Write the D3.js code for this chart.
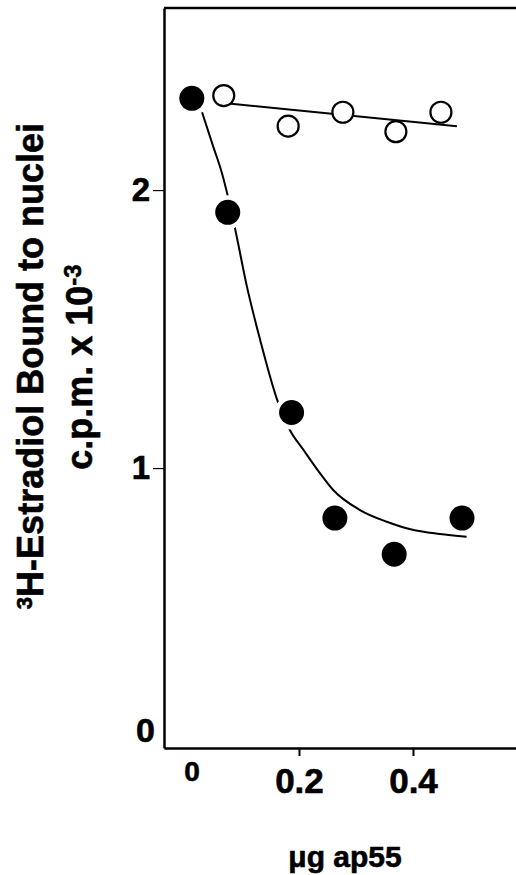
<!DOCTYPE html>
<html>
<head>
<meta charset="utf-8">
<script src="https://cdn.jsdelivr.net/npm/d3@7"></script>
<style>
  body { margin: 0; background: #ffffff; }
  text { font-family: "Liberation Sans", Arial, sans-serif; font-weight: bold; fill: #000; stroke: #000; stroke-width: 0.6px; }
</style>
</head>
<body>
<div class="mainWrapper"></div>
<script>
// filled circles: with ap55
var filledX = [0.012, 0.075, 0.187, 0.263, 0.367, 0.486];
var filledY = [2.33, 1.92, 1.20, 0.82, 0.69, 0.82];

// open circles: control
var openX = [0.068, 0.181, 0.277, 0.370, 0.449];
var openY = [2.34, 2.23, 2.28, 2.21, 2.28];

// fitted curve through filled circles (traced)
var curveX = [0.030, 0.049, 0.065, 0.075, 0.088, 0.109, 0.132, 0.161, 0.184, 0.208, 0.237, 0.260, 0.307, 0.354, 0.401, 0.447, 0.494];
var curveY = [2.28, 2.16, 2.06, 1.98, 1.86, 1.65, 1.46, 1.25, 1.137, 1.065, 0.981, 0.921, 0.849, 0.807, 0.777, 0.763, 0.753];

// straight line through open circles
var lineX = [0.068, 0.477];
var lineY = [2.313, 2.230];

var xTicks = [0.2, 0.4];
var yTicks = [1, 2];

var width = 516, height = 875;

var svg = d3.select(".mainWrapper")
  .append("svg")
    .attr("width", width)
    .attr("height", height);

var x = d3.scaleLinear()
  .domain([-0.0368, 0.5807])
  .range([164, 516]);

var y = d3.scaleLinear()
  .domain([-0.007, 2.655])
  .range([748, 8]);

// top border
svg.append("line")
  .attr("x1", x.range()[0]).attr("x2", x.range()[1])
  .attr("y1", y.range()[1]).attr("y2", y.range()[1])
  .attr("stroke", "#000").attr("stroke-width", 2.5);

// y axis
var yAxis = svg.append("g")
  .attr("transform", "translate(" + x.range()[0] + ",0)")
  .call(d3.axisLeft(y).tickValues(yTicks).tickSize(11).tickSizeOuter(0).tickPadding(3).tickFormat(d3.format("d")));
yAxis.select(".domain").attr("stroke-width", 2.5);
yAxis.selectAll(".tick line").attr("stroke-width", 1.2);
yAxis.selectAll(".tick text").style("font-size", "33px");

// x axis
var xAxis = svg.append("g")
  .attr("transform", "translate(0," + y.range()[0] + ")")
  .call(d3.axisBottom(x).tickValues(xTicks).tickSize(8).tickSizeOuter(0).tickPadding(12).tickFormat(d3.format(".1f")));
xAxis.select(".domain").attr("stroke-width", 2.5);
xAxis.selectAll(".tick line").attr("stroke-width", 2);
xAxis.selectAll(".tick text").style("font-size", "35px");

// the two "0" labels sit off their ticks in the original
svg.append("text")
  .attr("x", x.range()[0] - 9)
  .attr("y", y(0) - 4)
  .attr("text-anchor", "end")
  .style("font-size", "34px")
  .text("0");

svg.append("text")
  .attr("x", x(0) + 7)
  .attr("y", y(0) + 35)
  .attr("text-anchor", "middle")
  .style("font-size", "28px")
  .text("0");

// axis titles
svg.append("text")
  .attr("x", 345)
  .attr("y", 867)
  .attr("text-anchor", "middle")
  .style("font-size", "30px")
  .text("\u03bcg ap55");

var t1 = svg.append("text")
  .attr("transform", "translate(43,366) rotate(-90)")
  .attr("text-anchor", "middle")
  .style("font-size", "36px");
t1.append("tspan").style("font-size", "22px").attr("dy", -11).text("3");
t1.append("tspan").attr("dy", 11).text("H-Estradiol Bound to nuclei");

var t2 = svg.append("text")
  .attr("transform", "translate(92,367) rotate(-90)")
  .attr("text-anchor", "middle")
  .style("font-size", "36px");
t2.append("tspan").text("c.p.m. x 10");
t2.append("tspan").style("font-size", "24px").attr("dy", -11).text("-3");

// control line
svg.append("path")
  .datum(d3.zip(lineX, lineY))
  .attr("fill", "none")
  .attr("stroke", "#000")
  .attr("stroke-width", 2)
  .attr("d", d3.line()
    .x(function(d) { return x(d[0]); })
    .y(function(d) { return y(d[1]); }));

// fitted curve
svg.append("path")
  .datum(d3.zip(curveX, curveY))
  .attr("fill", "none")
  .attr("stroke", "#000")
  .attr("stroke-width", 2)
  .attr("d", d3.line()
    .curve(d3.curveMonotoneX)
    .x(function(d) { return x(d[0]); })
    .y(function(d) { return y(d[1]); }));

var filled = d3.zip(filledX, filledY);

// white halo so the curve breaks around the filled dots
svg.append("g")
  .selectAll("circle")
  .data(filled)
  .enter()
  .append("circle")
    .attr("cx", function(d) { return x(d[0]); })
    .attr("cy", function(d) { return y(d[1]); })
    .attr("r", 17)
    .attr("fill", "#fff");

svg.append("g")
  .selectAll("circle")
  .data(filled)
  .enter()
  .append("circle")
    .attr("cx", function(d) { return x(d[0]); })
    .attr("cy", function(d) { return y(d[1]); })
    .attr("r", 12.5)
    .attr("fill", "#000");

svg.append("g")
  .selectAll("circle")
  .data(d3.zip(openX, openY))
  .enter()
  .append("circle")
    .attr("cx", function(d) { return x(d[0]); })
    .attr("cy", function(d) { return y(d[1]); })
    .attr("r", 10.5)
    .attr("fill", "#fff")
    .attr("stroke", "#000")
    .attr("stroke-width", 2.2);
</script>
</body>
</html>
